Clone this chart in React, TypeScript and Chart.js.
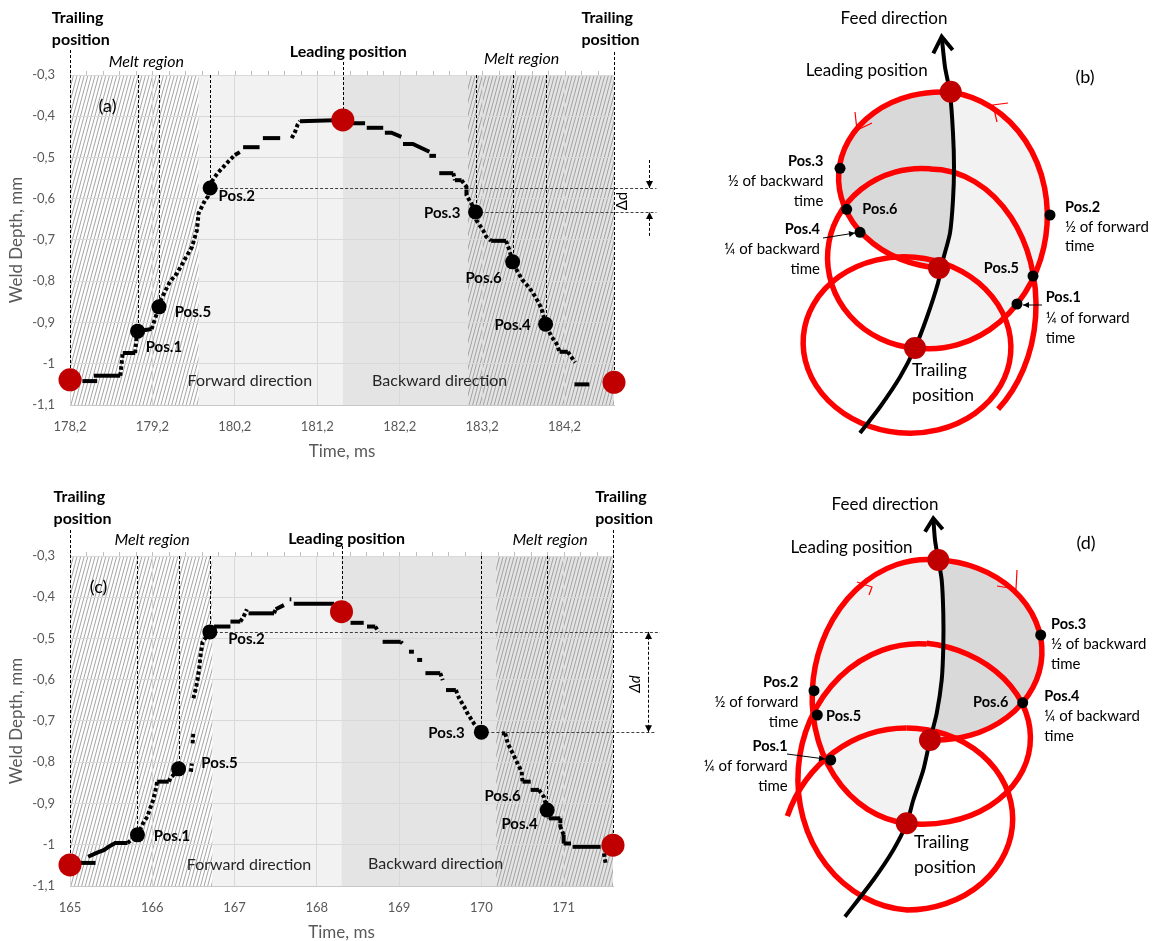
import React, { useEffect, useRef } from "react";
import { Chart, registerables } from "chart.js";
Chart.register(...registerables);

const FONT = "Lato, 'Open Sans', 'Noto Sans', sans-serif";
const GRAY_TXT = "#595959";

// ---------- shared depth axis ----------
const depthTicks = [-1.1, -1.0, -0.9, -0.8, -0.7, -0.6, -0.5, -0.4, -0.3];
const depthTickLabels = ["-1,1", "-1", "-0,9", "-0,8", "-0,7", "-0,6", "-0,5", "-0,4", "-0,3"];

// ---------- panel (a) ----------
const aTimeTicks = [178.2, 179.2, 180.2, 181.2, 182.2, 183.2, 184.2];
const aTimeTickLabels = ["178,2", "179,2", "180,2", "181,2", "182,2", "183,2", "184,2"];
const aCurveTime = [178.35, 178.53, null, 178.49, 178.81, 178.84, 178.99, 179.01, 179.02, 179.19, 179.28, 179.29, 179.41, 179.5, 179.59, 179.68, 179.74, 179.76, 179.84, 179.87, 179.9, 179.93, 179.99, 180.05, 180.14, 180.2, 180.26, null, 180.3, 180.5, null, 180.54, 180.75, null, 180.89, 180.93, 180.96, 180.99, 181.51, 181.63, 181.78, null, 181.8, 182.0, null, 182.02, 182.1, 182.22, null, 182.24, 182.36, 182.56, null, 182.56, 182.64, null, 182.68, 182.85, 182.87, 182.95, 183.01, 183.01, 183.09, 183.12, 183.13, 183.21, 183.25, 183.31, 183.49, 183.53, 183.57, 183.63, 183.69, 183.76, 183.82, 183.88, 183.92, 183.97, 184.04, 184.1, 184.14, 184.24, 184.28, 184.33, null, 184.32, 184.5];
const aCurveDepth = [-1.042, -1.042, null, -1.029, -1.029, -0.974, -0.974, -0.93, -0.921, -0.916, -0.862, -0.85, -0.802, -0.78, -0.748, -0.717, -0.676, -0.635, -0.603, -0.596, -0.574, -0.555, -0.538, -0.525, -0.506, -0.494, -0.487, null, -0.475, -0.475, null, -0.453, -0.453, null, -0.453, -0.438, -0.421, -0.412, -0.409, -0.417, -0.417, null, -0.428, -0.428, null, -0.44, -0.44, -0.45, null, -0.467, -0.467, -0.486, null, -0.496, -0.496, null, -0.538, -0.538, -0.555, -0.555, -0.571, -0.591, -0.619, -0.632, -0.652, -0.676, -0.692, -0.702, -0.702, -0.724, -0.753, -0.777, -0.797, -0.813, -0.829, -0.85, -0.866, -0.904, -0.934, -0.95, -0.971, -0.971, -0.983, -0.997, null, -1.05, -1.05];
const aPosTime = [179.02, 179.28, 179.9, 183.12, 183.57, 183.97];
const aPosDepth = [-0.921, -0.862, -0.574, -0.632, -0.753, -0.904];
const aEndTime = [178.2, 181.51, 184.8];
const aEndDepth = [-1.039, -0.409, -1.045];
const aVLineTime = [178.2, 179.02, 179.28, 179.9, 181.51, 183.12, 183.57, 183.97, 184.8];
const aVLineTop = [-0.2394, -0.3, -0.3, -0.3, -0.2685, -0.3, -0.3, -0.3, -0.2442];
const aVLineBottom = [-1.039, -0.921, -0.862, -0.574, -0.409, -0.632, -0.753, -0.904, -1.045];

// ---------- panel (c) ----------
const cTimeTicks = [165, 166, 167, 168, 169, 170, 171];
const cTimeTickLabels = ["165", "166", "167", "168", "169", "170", "171"];
const cCurveTime = [165.13, 165.31, null, 165.22, 165.33, 165.41, 165.47, 165.55, 165.7, 165.74, 165.82, 165.89, 165.94, 165.98, 166.01, 166.04, 166.06, 166.2, 166.22, 166.32, null, 166.47, 166.48, null, 166.49, 166.5, null, 166.5, 166.53, 166.55, 166.57, 166.59, 166.61, 166.7, 166.75, 166.95, null, 166.95, 167.07, 167.11, 167.15, null, 167.17, 167.48, 167.5, 167.6, null, 167.67, 167.69, null, 167.72, 168.21, null, 168.41, 168.57, null, 168.61, 168.71, 168.75, null, 168.8, 169.02, 169.04, null, 169.12, 169.18, null, 169.22, 169.28, null, 169.32, 169.5, 169.53, null, 169.57, 169.69, 169.73, 169.79, 169.83, 169.91, 170.0, null, 170.25, 170.29, 170.32, 170.38, 170.44, 170.49, 170.5, 170.6, null, 170.6, 170.7, 170.76, 170.8, 170.82, 170.96, 170.96, 171.0, 171.0, 171.09, null, 171.11, 171.45, null, 171.49, 171.51];
const cCurveDepth = [-1.044, -1.044, null, -1.029, -1.019, -1.013, -1.005, -0.996, -0.996, -0.989, -0.976, -0.947, -0.932, -0.908, -0.892, -0.867, -0.847, -0.847, -0.839, -0.816, null, -0.823, -0.803, null, -0.754, -0.726, null, -0.645, -0.621, -0.601, -0.572, -0.536, -0.509, -0.484, -0.471, -0.471, null, -0.459, -0.459, -0.447, -0.429, null, -0.439, -0.439, -0.429, -0.419, null, -0.405, -0.405, null, -0.416, -0.416, null, -0.462, -0.462, null, -0.471, -0.471, -0.484, null, -0.508, -0.508, -0.512, null, -0.532, -0.532, null, -0.552, -0.552, null, -0.584, -0.584, -0.601, null, -0.625, -0.625, -0.645, -0.665, -0.681, -0.706, -0.727, null, -0.73, -0.73, -0.754, -0.778, -0.803, -0.823, -0.847, -0.847, null, -0.867, -0.867, -0.884, -0.916, -0.936, -0.936, -0.956, -0.976, -0.997, -0.997, null, -1.005, -1.005, null, -1.021, -1.045];
const cPosTime = [165.82, 166.32, 166.7, 170.0, 170.8];
const cPosDepth = [-0.976, -0.816, -0.484, -0.727, -0.916];
const cEndTime = [165.0, 168.3, 171.6];
const cEndDepth = [-1.049, -0.435, -1.001];
const cVLineTime = [165.0, 165.82, 166.32, 166.7, 168.3, 170.0, 170.8, 171.6];
const cVLineTop = [-0.237, -0.3, -0.3, -0.3, -0.2758, -0.3, -0.3, -0.237];
const cVLineBottom = [-1.049, -0.976, -0.816, -0.484, -0.435, -0.727, -0.916, -1.001];

// ---------- diagram (b) (page pixel units) ----------
const bFeedX = [860, 880, 900, 915, 927, 938, 943, 950, 953, 954, 953, 950, 945, 941.7];
const bFeedY = [433, 407, 377, 348, 317, 283, 260, 233, 200, 167, 133, 93, 67, 36.7];
const bArrowX = [933.3, 941.7, 952.7];
const bArrowY = [53.3, 36.7, 50];
const bRedX = [950.7, 939, 915];
const bRedY = [91.7, 268, 348];
const bPosX = [1017, 1033, 1050, 840, 846.7, 860];
const bPosY = [304, 276, 215, 168.3, 209.3, 232.3];
// [cx, cy, rx, ry, rotation, start, end, anticlockwise]
const bArcs = [
  [933, 220, 114, 129, 8, 90, -90, true],
  [944.5, 180, 106, 88, 4, -90, 90, true],
  [930, 305, 106, 136, 0, 50, -90, true],
  [922.5, 258.5, 95, 90, 5, -90, 90, true],
  [907, 345, 104, 88, 5, 0, 360, false],
];
const bChevrons = [
  [[855, 112], [857, 130], [872, 123]],
  [[1008, 103], [993, 105], [997, 122]],
];
const bPointers = [
  [823, 238, 855, 233],
  [1042, 305, 1023, 305],
];

// ---------- diagram (d) ----------
const dFeedX = [845, 873.3, 893.3, 906.7, 913.3, 923.3, 930, 936.7, 941.7, 943.3, 943.3, 941.7, 938.3, 935, 933.3];
const dFeedY = [916.7, 880, 850, 823.3, 800, 770, 740, 713.3, 680, 646.7, 613.3, 580, 560, 540, 518.3];
const dArrowX = [925, 933.3, 942.7];
const dArrowY = [531.7, 518.3, 529.3];
const dRedX = [938.3, 930, 906.7];
const dRedY = [560, 740, 823.3];
const dPosX = [830.7, 817.3, 814, 1040.7, 1022.7];
const dPosY = [760, 715, 690.7, 635, 702.7];
const dArcs = [
  [922.5, 691.7, 110, 132.6, 6.8, -90, 90, true],
  [934, 650, 108, 90, 2.7, -90, 90, false],
  [916.7, 733.3, 114, 90.6, 6.3, -90, 90, false],
  [917, 777, 119, 133.4, 4.2, -90, 90, true],
  [906.7, 819, 106, 91, 0, 90, -90, true],
  [906.7, 862, 127, 134, 0, -90, -160, true],
];
const dChevrons = [
  [[857, 582], [872, 587], [869, 595]],
  [[997, 586], [1016, 589], [1017, 570]],
];
const dPointers = [[787, 754, 825, 759]];

type Txt = { t: string; x: number; y: number; f: string; a?: CanvasTextAlign; c?: string; r?: number };

const aTexts: Txt[] = [
  { t: "Trailing", x: 177.98, y: -0.1606, f: "bold 16px", a: "left" },
  { t: "position", x: 177.98, y: -0.2152, f: "bold 16px", a: "left" },
  { t: "Trailing", x: 184.406, y: -0.1606, f: "bold 16px", a: "left" },
  { t: "position", x: 184.406, y: -0.2152, f: "bold 16px", a: "left" },
  { t: "Leading position", x: 181.576, y: -0.243, f: "bold 16px" },
  { t: "Melt region", x: 179.127, y: -0.2673, f: "italic 16px" },
  { t: "Melt region", x: 183.679, y: -0.26, f: "italic 16px" },
  { t: "(a)", x: 178.655, y: -0.375, f: "18px" },
  { t: "Pos.2", x: 180.224, y: -0.5933, f: "bold 15px" },
  { t: "Pos.5", x: 179.691, y: -0.8745, f: "bold 15px" },
  { t: "Pos.1", x: 179.339, y: -0.9594, f: "bold 15px" },
  { t: "Forward direction", x: 180.382, y: -1.0418, f: "16px", c: "#262626" },
  { t: "Backward direction", x: 182.685, y: -1.0418, f: "16px", c: "#262626" },
  { t: "Pos.3", x: 182.715, y: -0.6345, f: "bold 15px" },
  { t: "Pos.6", x: 183.218, y: -0.7921, f: "bold 15px" },
  { t: "Pos.4", x: 183.57, y: -0.906, f: "bold 15px" },
  { t: "Δd", x: 184.897, y: -0.6055, f: "15px", r: -90 },
];
const cTexts: Txt[] = [
  { t: "Trailing", x: 164.8, y: -0.1558, f: "bold 16px", a: "left" },
  { t: "position", x: 164.8, y: -0.2091, f: "bold 16px", a: "left" },
  { t: "Trailing", x: 171.383, y: -0.1558, f: "bold 16px", a: "left" },
  { t: "position", x: 171.383, y: -0.2091, f: "bold 16px", a: "left" },
  { t: "Leading position", x: 168.362, y: -0.2576, f: "bold 16px" },
  { t: "Melt region", x: 165.997, y: -0.26, f: "italic 16px" },
  { t: "Melt region", x: 170.836, y: -0.26, f: "italic 16px" },
  { t: "(c)", x: 165.347, y: -0.3752, f: "18px" },
  { t: "Pos.2", x: 167.146, y: -0.5012, f: "bold 15px" },
  { t: "Pos.5", x: 166.818, y: -0.8018, f: "bold 15px" },
  { t: "Pos.1", x: 166.24, y: -0.9788, f: "bold 15px" },
  { t: "Forward direction", x: 167.176, y: -1.0491, f: "16px", c: "#262626" },
  { t: "Backward direction", x: 169.444, y: -1.0467, f: "16px", c: "#262626" },
  { t: "Pos.3", x: 169.577, y: -0.7291, f: "bold 15px" },
  { t: "Pos.6", x: 170.258, y: -0.8818, f: "bold 15px" },
  { t: "Pos.4", x: 170.465, y: -0.9497, f: "bold 15px" },
  { t: "Δd", x: 171.875, y: -0.6103, f: "italic 15px", r: -90 },
];
const bTexts: Txt[] = [
  { t: "Feed direction", x: 894, y: 19, f: "17px" },
  { t: "Leading position", x: 866.7, y: 71, f: "17px" },
  { t: "(b)", x: 1085, y: 77, f: "18px" },
  { t: "Pos.3", x: 823.3, y: 161, f: "bold 14.5px", a: "right" },
  { t: "½ of backward", x: 823.3, y: 181, f: "15px", a: "right" },
  { t: "time", x: 823.3, y: 201, f: "15px", a: "right" },
  { t: "Pos.6", x: 862.3, y: 209, f: "bold 14.5px", a: "left" },
  { t: "Pos.4", x: 820, y: 229, f: "bold 14.5px", a: "right" },
  { t: "¼ of backward", x: 820, y: 249, f: "15px", a: "right" },
  { t: "time", x: 820, y: 269, f: "15px", a: "right" },
  { t: "Pos.2", x: 1065, y: 207, f: "bold 14.5px", a: "left" },
  { t: "½ of forward", x: 1065, y: 227, f: "15px", a: "left" },
  { t: "time", x: 1065, y: 246, f: "15px", a: "left" },
  { t: "Pos.5", x: 1019, y: 268, f: "bold 14.5px", a: "right" },
  { t: "Pos.1", x: 1045.7, y: 297, f: "bold 14.5px", a: "left" },
  { t: "¼ of forward", x: 1045.7, y: 318, f: "15px", a: "left" },
  { t: "time", x: 1045.7, y: 338, f: "15px", a: "left" },
  { t: "Trailing", x: 912, y: 370, f: "17.5px", a: "left" },
  { t: "position", x: 912, y: 395, f: "17.5px", a: "left" },
];
const dTexts: Txt[] = [
  { t: "Feed direction", x: 885, y: 504.5, f: "17px" },
  { t: "Leading position", x: 851.5, y: 547.5, f: "17px" },
  { t: "(d)", x: 1086, y: 543, f: "18px" },
  { t: "Pos.3", x: 1051, y: 624.5, f: "bold 14.5px", a: "left" },
  { t: "½ of backward", x: 1051, y: 644.5, f: "15px", a: "left" },
  { t: "time", x: 1051, y: 664.5, f: "15px", a: "left" },
  { t: "Pos.4", x: 1044.3, y: 696, f: "bold 14.5px", a: "left" },
  { t: "¼ of backward", x: 1044.3, y: 716, f: "15px", a: "left" },
  { t: "time", x: 1044.3, y: 736, f: "15px", a: "left" },
  { t: "Pos.6", x: 1008.3, y: 702, f: "bold 14.5px", a: "right" },
  { t: "Pos.2", x: 798.3, y: 682.5, f: "bold 14.5px", a: "right" },
  { t: "½ of forward", x: 798.3, y: 702, f: "15px", a: "right" },
  { t: "time", x: 798.3, y: 722, f: "15px", a: "right" },
  { t: "Pos.5", x: 826, y: 716, f: "bold 14.5px", a: "left" },
  { t: "Pos.1", x: 787.7, y: 746.7, f: "bold 14.5px", a: "right" },
  { t: "¼ of forward", x: 787.7, y: 766, f: "15px", a: "right" },
  { t: "time", x: 787.7, y: 786, f: "15px", a: "right" },
  { t: "Trailing", x: 914, y: 842, f: "17.5px", a: "left" },
  { t: "position", x: 914, y: 867, f: "17.5px", a: "left" },
];

function drawTexts(chart: any, list: Txt[]) {
  const { ctx, scales } = chart;
  const x = scales.x, y = scales.y;
  list.forEach((o) => {
    ctx.save();
    ctx.translate(x.getPixelForValue(o.x), y.getPixelForValue(o.y));
    if (o.r) ctx.rotate((o.r * Math.PI) / 180);
    ctx.font = `${o.f} ${FONT}`;
    ctx.fillStyle = o.c || "#000";
    ctx.textAlign = o.a || "center";
    ctx.textBaseline = "middle";
    ctx.fillText(o.t, 0, 0);
    ctx.restore();
  });
}

function arrowHead(ctx: any, x0: number, y0: number, x1: number, y1: number, len: number, half: number) {
  const ang = Math.atan2(y1 - y0, x1 - x0);
  ctx.beginPath();
  ctx.moveTo(x1, y1);
  ctx.lineTo(x1 - len * Math.cos(ang) + half * Math.sin(ang), y1 - len * Math.sin(ang) - half * Math.cos(ang));
  ctx.lineTo(x1 - len * Math.cos(ang) - half * Math.sin(ang), y1 - len * Math.sin(ang) + half * Math.cos(ang));
  ctx.closePath();
  ctx.fill();
}

function toPoints(ts: (number | null)[], ds: (number | null)[]) {
  let last = ts[0] as number;
  return ts.map((t, i) => {
    if (t != null) last = t;
    return { x: last, y: ds[i] };
  });
}

type Weld = {
  id: string; xMin: number; xMax: number; padTop: number; padRight: number; xHeight: number;
  ticks: number[]; tickLabels: string[];
  curveT: (number | null)[]; curveD: (number | null)[];
  posT: number[]; posD: number[]; endT: number[]; endD: number[];
  hatch: [number, number, string][]; bands: [number, number, string][];
  vT: number[]; vTop: number[]; vBot: number[];
  hLines: [number, number, number][]; arrows: [number, number, number][];
  texts: Txt[];
};

function weldPlugin(p: Weld) {
  return {
    id: "weld" + p.id,
    beforeDraw(chart: any) {
      const { ctx, chartArea, scales } = chart;
      const { top, bottom } = chartArea;
      const x = scales.x;
      ctx.save();
      p.bands.forEach(([a, b, col]) => {
        const xa = x.getPixelForValue(a), xb = x.getPixelForValue(b);
        ctx.fillStyle = col;
        ctx.fillRect(xa, top, xb - xa, bottom - top);
      });
      p.hatch.forEach(([a, b, bg]) => {
        const xa = x.getPixelForValue(a), xb = x.getPixelForValue(b);
        ctx.fillStyle = bg;
        ctx.fillRect(xa, top, xb - xa, bottom - top);
        ctx.save();
        ctx.beginPath();
        ctx.rect(xa, top, xb - xa, bottom - top);
        ctx.clip();
        ctx.strokeStyle = "#9a9a9a";
        ctx.lineWidth = 0.9;
        const lean = (bottom - top) * 0.27;
        ctx.beginPath();
        for (let xx = xa - lean; xx < xb + 2; xx += 3.6) {
          ctx.moveTo(xx, bottom);
          ctx.lineTo(xx + lean, top);
        }
        ctx.stroke();
        ctx.restore();
      });
      ctx.restore();
    },
    beforeDatasetsDraw(chart: any) {
      const { ctx, chartArea, scales } = chart;
      const x = scales.x, y = scales.y;
      ctx.save();
      ctx.strokeStyle = "#bfbfbf";
      ctx.lineWidth = 1;
      ctx.beginPath();
      for (let i = 0; p.xMin + i * 0.2 <= p.xMax + 1e-6; i++) {
        const px = Math.round(x.getPixelForValue(p.xMin + i * 0.2)) + 0.5;
        ctx.moveTo(px, chartArea.top - 4);
        ctx.lineTo(px, chartArea.top);
      }
      ctx.stroke();
      ctx.strokeStyle = "#000";
      ctx.lineWidth = 1;
      ctx.setLineDash([3, 2]);
      p.vT.forEach((t, i) => {
        const px = Math.round(x.getPixelForValue(t)) + 0.5;
        ctx.beginPath();
        ctx.moveTo(px, y.getPixelForValue(p.vTop[i]));
        ctx.lineTo(px, y.getPixelForValue(p.vBot[i]));
        ctx.stroke();
      });
      ctx.strokeStyle = "#404040";
      p.hLines.forEach(([t0, t1, d]) => {
        const py = Math.round(y.getPixelForValue(d)) + 0.5;
        ctx.beginPath();
        ctx.moveTo(x.getPixelForValue(t0), py);
        ctx.lineTo(x.getPixelForValue(t1), py);
        ctx.stroke();
      });
      ctx.strokeStyle = "#000";
      p.arrows.forEach(([t, d0, d1]) => {
        const px = Math.round(x.getPixelForValue(t)) + 0.5;
        const y0 = y.getPixelForValue(d0), y1 = y.getPixelForValue(d1);
        ctx.setLineDash([3, 2]);
        ctx.beginPath();
        ctx.moveTo(px, y0);
        ctx.lineTo(px, y1);
        ctx.stroke();
        ctx.setLineDash([]);
        ctx.fillStyle = "#000";
        arrowHead(ctx, px, y0, px, y1, 7, 3.5);
      });
      ctx.restore();
    },
    afterDraw(chart: any) {
      drawTexts(chart, p.texts);
    },
  };
}

function makeWeld(p: Weld): any {
  const curve = toPoints(p.curveT, p.curveD);
  return {
    type: "scatter",
    data: {
      datasets: [
        {
          type: "scatter", data: p.endT.map((t, i) => ({ x: t, y: p.endD[i] })),
          pointRadius: 11.5, backgroundColor: "#c00000", borderColor: "#c00000", borderWidth: 0, clip: false, order: 0,
        },
        {
          type: "scatter", data: p.posT.map((t, i) => ({ x: t, y: p.posD[i] })),
          pointRadius: 7.5, backgroundColor: "#000", borderColor: "#000", borderWidth: 0, clip: false, order: 1,
        },
        {
          type: "line", data: curve, borderColor: "#000", borderWidth: 4, pointRadius: 0, spanGaps: false,
          tension: 0, fill: false, borderCapStyle: "butt", order: 2,
          segment: {
            borderDash: (c: any) => {
              const dx = Math.abs(c.p1.x - c.p0.x), dy = Math.abs(c.p1.y - c.p0.y);
              return dy > dx * 0.8 ? [3.5, 2.5] : undefined;
            },
          },
        },
      ],
    },
    options: {
      animation: false, responsive: false, maintainAspectRatio: false, devicePixelRatio: 1, events: [],
      layout: { autoPadding: false, padding: { top: p.padTop, right: p.padRight, left: 0, bottom: 0 } },
      plugins: { legend: { display: false }, tooltip: { enabled: false } },
      scales: {
        x: {
          type: "linear", min: p.xMin, max: p.xMax,
          afterBuildTicks: (s: any) => { s.ticks = p.ticks.map((v) => ({ value: v })); },
          afterFit: (s: any) => { s.height = p.xHeight; },
          ticks: {
            autoSkip: false, maxRotation: 0, color: GRAY_TXT, padding: 14,
            font: { family: FONT, size: 13 },
            callback: (_v: any, i: number) => p.tickLabels[i],
          },
          grid: { color: "#d9d9d9", drawTicks: false },
          border: { display: true, color: "#c8c8c8" },
          title: { display: true, text: "Time, ms", color: GRAY_TXT, font: { family: FONT, size: 17, lineHeight: 1 }, padding: { top: 0, bottom: 0 } },
        },
        y: {
          type: "linear", min: -1.1, max: -0.3,
          afterBuildTicks: (s: any) => { s.ticks = depthTicks.map((v) => ({ value: v })); },
          afterFit: (s: any) => { s.width = 70; },
          ticks: {
            color: GRAY_TXT, padding: 15, font: { family: FONT, size: 13 },
            callback: (_v: any, i: number) => depthTickLabels[i],
          },
          grid: { color: "#d9d9d9", drawTicks: false },
          border: { display: false },
          title: { display: true, text: "Weld Depth, mm", color: GRAY_TXT, font: { family: FONT, size: 17, lineHeight: 1 }, padding: { top: 8.5, bottom: 0 } },
        },
      },
    },
    plugins: [weldPlugin(p)],
  };
}

const panelA: Weld = {
  id: "a", xMin: 178.2, xMax: 184.8, padTop: 75, padRight: 46, xHeight: 55,
  ticks: aTimeTicks, tickLabels: aTimeTickLabels,
  curveT: aCurveTime, curveD: aCurveDepth,
  posT: aPosTime, posD: aPosDepth, endT: aEndTime, endD: aEndDepth,
  hatch: [[178.2, 179.76, "#ffffff"], [183.03, 184.8, "#e4e4e4"]],
  bands: [[179.76, 181.51, "#f2f2f2"], [181.51, 183.03, "#e4e4e4"]],
  vT: aVLineTime, vTop: aVLineTop, vBot: aVLineBottom,
  hLines: [[179.9, 185.315, -0.574], [183.12, 185.315, -0.632]],
  arrows: [[185.23, -0.506, -0.574], [185.23, -0.69, -0.632]],
  texts: aTexts,
};
const panelC: Weld = {
  id: "c", xMin: 165, xMax: 171.6, padTop: 76, padRight: 47, xHeight: 55,
  ticks: cTimeTicks, tickLabels: cTimeTickLabels,
  curveT: cCurveTime, curveD: cCurveDepth,
  posT: cPosTime, posD: cPosDepth, endT: cEndTime, endD: cEndDepth,
  hatch: [[165, 166.73, "#ffffff"], [170.18, 171.6, "#e4e4e4"]],
  bands: [[166.73, 168.3, "#f2f2f2"], [168.3, 170.18, "#e4e4e4"]],
  vT: cVLineTime, vTop: cVLineTop, vBot: cVLineBottom,
  hLines: [[166.7, 172.18, -0.484], [170.0, 172.12, -0.727]],
  arrows: [[172.02, -0.6, -0.484], [172.02, -0.6, -0.727]],
  texts: cTexts,
};

type Diagram = {
  id: string; x0: number; x1: number; y0: number; y1: number;
  feedX: number[]; feedY: number[]; arrowX: number[]; arrowY: number[];
  redX: number[]; redY: number[]; posX: number[]; posY: number[];
  arcs: any[]; chevrons: number[][][]; pointers: number[][]; texts: Txt[];
};

function diagramPlugin(d: Diagram) {
  return {
    id: "diag" + d.id,
    beforeDatasetsDraw(chart: any) {
      const { ctx, scales } = chart;
      const X = (v: number) => scales.x.getPixelForValue(v);
      const Y = (v: number) => scales.y.getPixelForValue(v);
      const kx = X(1) - X(0), ky = Math.abs(Y(1) - Y(0));
      const rad = (v: number) => (v * Math.PI) / 180;
      const ellPt = (a: any[], tDeg: number) => {
        const [cx, cy, rx, ry, rot] = a;
        const t = rad(tDeg), r = rad(rot);
        return [
          X(cx) + rx * kx * Math.cos(t) * Math.cos(r) - ry * ky * Math.sin(t) * Math.sin(r),
          Y(cy) + rx * kx * Math.cos(t) * Math.sin(r) + ry * ky * Math.sin(t) * Math.cos(r),
        ];
      };
      const ell = (a: any[]) => {
        const [cx, cy, rx, ry, rot, s, e, ccw] = a;
        ctx.ellipse(X(cx), Y(cy), rx * kx, ry * ky, rad(rot), rad(s), rad(e), ccw);
      };
      const feed = d.feedX.map((v, i) => [X(v), Y(d.feedY[i])]);
      ctx.save();
      const fills: [number, string][] = [[1, "#d9d9d9"], [0, "#f2f2f2"]];
      fills.forEach(([idx, col]) => {
        const a = d.arcs[idx];
        const sp = ellPt(a, a[5]), ep = ellPt(a, a[6]);
        const lo = Math.min(sp[1], ep[1]), hi = Math.max(sp[1], ep[1]);
        let seg = feed.filter((q) => q[1] > lo && q[1] < hi);
        if (ep[1] < sp[1]) seg = seg.slice().reverse();
        ctx.beginPath();
        ell(a);
        seg.forEach((q) => ctx.lineTo(q[0], q[1]));
        ctx.closePath();
        ctx.fillStyle = col;
        ctx.fill();
      });
      ctx.strokeStyle = "#ff0000";
      ctx.lineWidth = 5.5;
      d.arcs.forEach((a) => {
        ctx.beginPath();
        ell(a);
        ctx.stroke();
      });
      ctx.lineWidth = 1.2;
      d.chevrons.forEach((c) => {
        ctx.beginPath();
        ctx.moveTo(X(c[0][0]), Y(c[0][1]));
        ctx.lineTo(X(c[1][0]), Y(c[1][1]));
        ctx.lineTo(X(c[2][0]), Y(c[2][1]));
        ctx.stroke();
      });
      ctx.restore();
    },
    afterDatasetsDraw(chart: any) {
      const { ctx, scales } = chart;
      const X = (v: number) => scales.x.getPixelForValue(v);
      const Y = (v: number) => scales.y.getPixelForValue(v);
      ctx.save();
      ctx.strokeStyle = "#000";
      ctx.fillStyle = "#000";
      ctx.lineWidth = 1;
      d.pointers.forEach(([x0, y0, x1, y1]) => {
        ctx.beginPath();
        ctx.moveTo(X(x0), Y(y0));
        ctx.lineTo(X(x1), Y(y1));
        ctx.stroke();
        arrowHead(ctx, X(x0), Y(y0), X(x1), Y(y1), 6, 3);
      });
      ctx.restore();
    },
    afterDraw(chart: any) {
      drawTexts(chart, d.texts);
    },
  };
}

function makeDiagram(d: Diagram): any {
  return {
    type: "scatter",
    data: {
      datasets: [
        { type: "scatter", data: d.redX.map((v, i) => ({ x: v, y: d.redY[i] })), pointRadius: 11, backgroundColor: "#c00000", borderWidth: 0, clip: false, order: 0 },
        { type: "scatter", data: d.posX.map((v, i) => ({ x: v, y: d.posY[i] })), pointRadius: 5.5, backgroundColor: "#000", borderWidth: 0, clip: false, order: 1 },
        { type: "line", data: d.arrowX.map((v, i) => ({ x: v, y: d.arrowY[i] })), borderColor: "#000", borderWidth: 4, pointRadius: 0, tension: 0, clip: false, order: 2 },
        { type: "line", data: d.feedX.map((v, i) => ({ x: v, y: d.feedY[i] })), borderColor: "#000", borderWidth: 4, pointRadius: 0, tension: 0.25, clip: false, order: 3 },
      ],
    },
    options: {
      animation: false, responsive: false, maintainAspectRatio: false, devicePixelRatio: 1, events: [],
      layout: { autoPadding: false, padding: 0 },
      plugins: { legend: { display: false }, tooltip: { enabled: false } },
      scales: {
        x: { type: "linear", display: false, min: d.x0, max: d.x1 },
        y: { type: "linear", display: false, min: d.y0, max: d.y1, reverse: true },
      },
    },
    plugins: [diagramPlugin(d)],
  };
}

const diagB: Diagram = {
  id: "b", x0: 660, x1: 1159, y0: 0, y1: 460,
  feedX: bFeedX, feedY: bFeedY, arrowX: bArrowX, arrowY: bArrowY,
  redX: bRedX, redY: bRedY, posX: bPosX, posY: bPosY,
  arcs: bArcs, chevrons: bChevrons, pointers: bPointers, texts: bTexts,
};
const diagD: Diagram = {
  id: "d", x0: 660, x1: 1159, y0: 460, y1: 941,
  feedX: dFeedX, feedY: dFeedY, arrowX: dArrowX, arrowY: dArrowY,
  redX: dRedX, redY: dRedY, posX: dPosX, posY: dPosY,
  arcs: dArcs, chevrons: dChevrons, pointers: dPointers, texts: dTexts,
};

function ChartCanvas(props: { make: () => any; left: number; top: number; width: number; height: number }) {
  const ref = useRef<HTMLCanvasElement>(null);
  useEffect(() => {
    const chart = new Chart(ref.current as HTMLCanvasElement, props.make());
    return () => chart.destroy();
  }, []);
  return (
    <canvas
      ref={ref}
      width={props.width}
      height={props.height}
      style={{ position: "absolute", left: props.left, top: props.top, width: props.width, height: props.height }}
    />
  );
}

export default function App() {
  return (
    <div style={{ position: "absolute", left: 0, top: 0, width: 1159, height: 941, background: "#fff", overflow: "hidden" }}>
      <ChartCanvas make={() => makeWeld(panelA)} left={0} top={0} width={660} height={460} />
      <ChartCanvas make={() => makeWeld(panelC)} left={0} top={480} width={660} height={461} />
      <ChartCanvas make={() => makeDiagram(diagB)} left={660} top={0} width={499} height={460} />
      <ChartCanvas make={() => makeDiagram(diagD)} left={660} top={460} width={499} height={481} />
    </div>
  );
}
